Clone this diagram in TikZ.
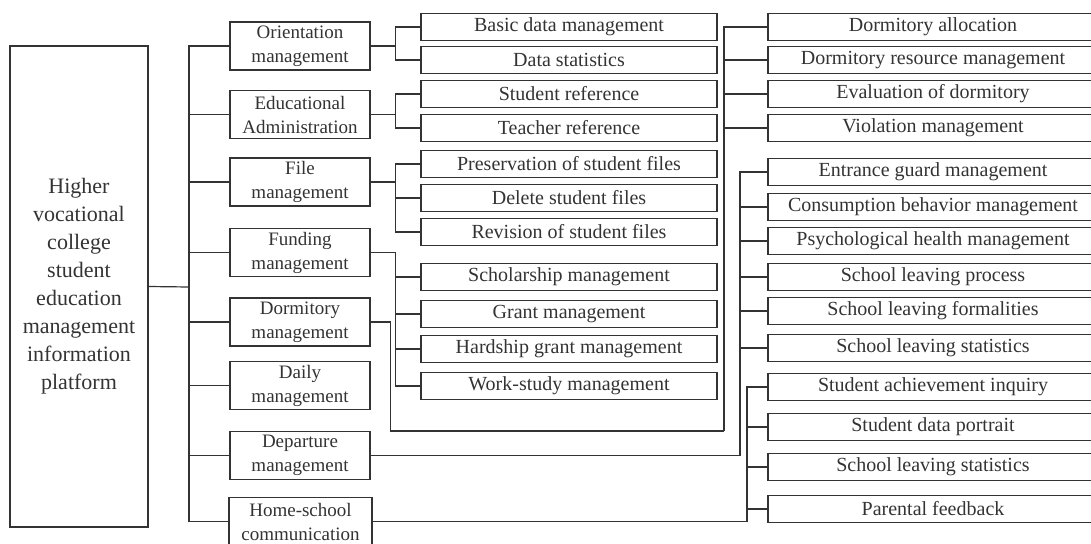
\documentclass[tikz,border=0pt]{standalone}
\usepackage{fontspec}
\setmainfont{Liberation Serif}
\begin{document}
\begin{tikzpicture}[x=1pt,y=-1pt,
  line width=1.2pt,draw=black!80,text=black!80,
  root node/.style={draw,align=center,minimum width=138pt,minimum height=481pt,font=\fontsize{22}{28}\selectfont},
  main node/.style={draw,align=center,inner sep=0pt,minimum width=140pt,minimum height=48pt,font=\fontsize{19}{24}\selectfont},
  leaf node/.style={draw,inner sep=0pt,minimum width=296pt,minimum height=27pt,font=\fontsize{20}{24}\selectfont},
  side node/.style={leaf node,minimum width=330pt},
  elbow/.style={to path={|- (\tikztotarget)}},
  fork/.style={to path={-- ++(25,0) |- (\tikztotarget)}}]

  \useasboundingbox (0,0) rectangle (1091,543);
  \clip (0,0) rectangle (1091,543);

  \node[root node] (root) at (79,286.5) {Higher\\vocational\\college\\student\\education\\management\\information\\platform};

  \node[main node] (orient) at (300,46) {Orientation\\management};
  \node[main node] (edu) at (300,114.5) {Educational\\Administration};
  \node[main node] (file) at (300,182) {File\\management};
  \node[main node] (fund) at (300,252.5) {Funding\\management};
  \node[main node] (dorm) at (300,322) {Dormitory\\management};
  \node[main node] (daily) at (300,385.5) {Daily\\management};
  \node[main node] (depart) at (300,455.5) {Departure\\management};
  \node[main node,minimum width=143pt] (home) at (300.5,521.5) {Home-school\\communication};

  \node[leaf node] (basic) at (569,27) {Basic data management};
  \node[leaf node] (stats) at (569,60) {Data statistics};
  \node[leaf node] (sturef) at (569,94) {Student reference};
  \node[leaf node] (teachref) at (569,128) {Teacher reference};
  \node[leaf node] (preserve) at (569,164) {Preservation of student files};
  \node[leaf node] (delete) at (569,198) {Delete student files};
  \node[leaf node] (revise) at (569,232) {Revision of student files};
  \node[leaf node] (scholar) at (569,277) {Scholarship management};
  \node[leaf node] (grant) at (569,314) {Grant management};
  \node[leaf node] (hardship) at (569,349) {Hardship grant management};
  \node[leaf node] (workstudy) at (569,386) {Work-study management};

  \node[side node] (alloc) at (933,27) {Dormitory allocation};
  \node[side node] (resource) at (933,60) {Dormitory resource management};
  \node[side node] (evaldorm) at (933,94) {Evaluation of dormitory};
  \node[side node] (violation) at (933,128) {Violation management};
  \node[side node] (entrance) at (933,172) {Entrance guard management};
  \node[side node] (consume) at (933,207) {Consumption behavior management};
  \node[side node] (psych) at (933,241) {Psychological health management};
  \node[side node] (leavproc) at (933,277) {School leaving process};
  \node[side node] (leavform) at (933,311) {School leaving formalities};
  \node[side node] (leavstat) at (933,348) {School leaving statistics};
  \node[side node] (achieve) at (933,387) {Student achievement inquiry};
  \node[side node] (portrait) at (933,427) {Student data portrait};
  \node[side node] (leavstatb) at (933,467) {School leaving statistics};
  \node[side node] (parent) at (933,509) {Parental feedback};

  \coordinate (trunk) at (189,287);
  \coordinate (dormbend) at (724,431);
  \coordinate (departbend) at (740,455.5);
  \coordinate (homebend) at (747,521.5);

  % root to the eight modules
  \draw (root.east) -- (trunk);
  \path (trunk) edge[elbow] (orient.west)
     (trunk) edge[elbow] (edu.west)
     (trunk) edge[elbow] (file.west)
     (trunk) edge[elbow] (fund.west)
     (trunk) edge[elbow] (dorm.west)
     (trunk) edge[elbow] (daily.west)
     (trunk) edge[elbow] (depart.west)
     (trunk) edge[elbow] (home.west);

  % modules to their functions
  \path (orient.east) edge[fork] (basic.west)
     (orient.east) edge[fork] (stats.west)
     (edu.east) edge[fork] (sturef.west)
     (edu.east) edge[fork] (teachref.west)
     (file.east) edge[fork] (preserve.west)
     (file.east) edge[fork] (delete.west)
     (file.east) edge[fork] (revise.west)
     (fund.east) edge[fork] (scholar.west)
     (fund.east) edge[fork] (grant.west)
     (fund.east) edge[fork] (hardship.west)
     (fund.east) edge[fork] (workstudy.west);

  \draw (dorm.east) -- ++(20,0) |- (dormbend);
  \draw (depart.east) -- (departbend);
  \draw (home.east) -- (homebend);
  \path (dormbend) edge[elbow] (alloc.west)
     (dormbend) edge[elbow] (resource.west)
     (dormbend) edge[elbow] (evaldorm.west)
     (dormbend) edge[elbow] (violation.west)
     (departbend) edge[elbow] (entrance.west)
     (departbend) edge[elbow] (consume.west)
     (departbend) edge[elbow] (psych.west)
     (departbend) edge[elbow] (leavproc.west)
     (departbend) edge[elbow] (leavform.west)
     (departbend) edge[elbow] (leavstat.west)
     (homebend) edge[elbow] (achieve.west)
     (homebend) edge[elbow] (portrait.west)
     (homebend) edge[elbow] (leavstatb.west)
     (homebend) edge[elbow] (parent.west);
\end{tikzpicture}
\end{document}
